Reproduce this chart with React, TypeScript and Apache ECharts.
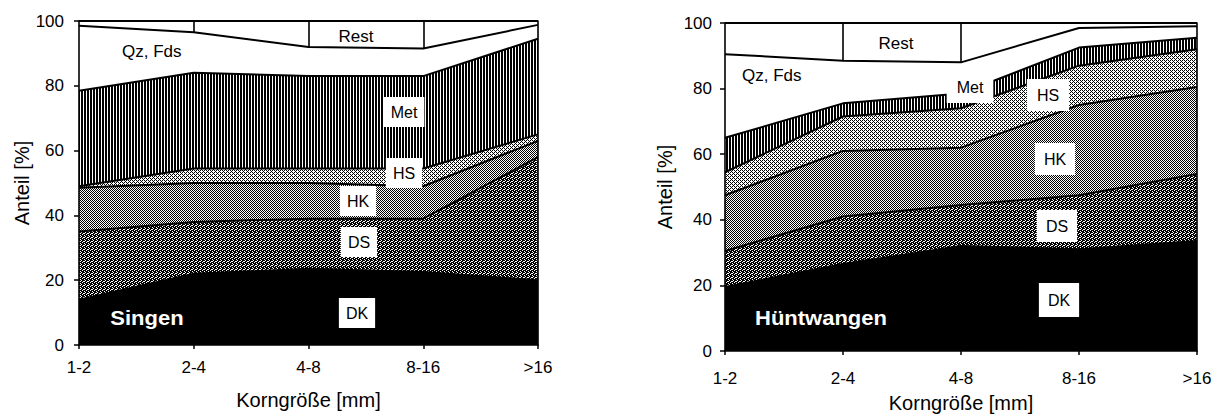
import React, { useEffect, useRef } from 'react';
import * as echarts from 'echarts';

const categories = ['1-2', '2-4', '4-8', '8-16', '>16'];
const yTickMin = 0;
const yTickMax = 100;
const yTickStep = 20;
const layerNames = ['DK', 'DS', 'HK', 'HS', 'Met', 'Qz, Fds', 'Rest'];

// Singen (left chart), share of each component in %
const singenDK = [14, 22, 23.5, 22.5, 20];
const singenDS = [21, 16, 15.5, 16.5, 38];
const singenHK = [13.5, 12, 11, 10, 5];
const singenHS = [0.5, 4.5, 4.5, 5.5, 2];
const singenMet = [29.5, 29.5, 28.5, 28.5, 29.5];
const singenQz = [20, 12.5, 9, 8.5, 4.3];
const singenRest = [1.5, 3.5, 8, 8.5, 1.2];
const singenRestDividers = ['2-4', '4-8', '8-16'];

// Hüntwangen (right chart)
const huentDK = [19.5, 26.5, 32, 31, 33.5];
const huentDS = [11, 14.5, 12.5, 16.5, 20.5];
const huentHK = [17, 20, 17.5, 27.5, 26.5];
const huentHS = [7, 10.5, 12, 12, 11.5];
const huentMet = [10.5, 4, 4.5, 5.5, 3.5];
const huentQz = [25.5, 13, 9.5, 6, 3.5];
const huentRest = [9.5, 11.5, 12, 1.5, 1];
const huentRestDividers = ['2-4', '4-8'];

const FONT = '"Liberation Sans", Arial, sans-serif';

function makePattern(rows: string[]) {
  const h = rows.length;
  const w = rows[0].length;
  const c = document.createElement('canvas');
  c.width = w;
  c.height = h;
  const ctx = c.getContext('2d')!;
  ctx.fillStyle = '#fff';
  ctx.fillRect(0, 0, w, h);
  ctx.fillStyle = '#000';
  rows.forEach((r, y) => {
    for (let x = 0; x < w; x++) if (r[x] === 'X') ctx.fillRect(x, y, 1, 1);
  });
  return { image: c.toDataURL(), repeat: 'repeat', imageWidth: w, imageHeight: h };
}

export default function App() {
  const ref = useRef<HTMLDivElement>(null);
  useEffect(() => {
    const chart = echarts.init(ref.current!, null, { renderer: 'svg' });

    const fills: any[] = [
      '#000',
      makePattern(['X.XX', '.XX.', 'XX.X', '.XXX']),
      makePattern(['X.', '.X']),
      makePattern(['X.X.', '.X..', 'X.X.', '...X']),
      makePattern(['XX.', 'XX.']),
      '#fff',
      '#fff',
    ];

    const charts = [
      { stack: 'L', values: [singenDK, singenDS, singenHK, singenHS, singenMet, singenQz, singenRest], dividers: singenRestDividers },
      { stack: 'R', values: [huentDK, huentDS, huentHK, huentHS, huentMet, huentQz, huentRest], dividers: huentRestDividers },
    ];

    const series: any[] = [];
    charts.forEach((c, gi) => {
      c.values.forEach((vals, li) => {
        series.push({
          type: 'line',
          name: layerNames[li] + '-' + c.stack,
          stack: c.stack,
          xAxisIndex: gi,
          yAxisIndex: gi * 2,
          data: vals,
          symbol: 'none',
          silent: true,
          lineStyle: { color: '#000', width: 2 },
          areaStyle: { color: fills[li], opacity: 1 },
          z: 2,
        });
      });
      series.push({
        type: 'line',
        xAxisIndex: gi,
        yAxisIndex: gi * 2,
        data: [],
        silent: true,
        z: 4,
        markLine: {
          symbol: ['none', 'none'],
          silent: true,
          label: { show: false },
          lineStyle: { color: '#000', width: 1.6, type: 'solid' },
          data: c.dividers.map((cat) => {
            const i = categories.indexOf(cat);
            let v = 0;
            for (let k = 0; k < 6; k++) v += c.values[k][i];
            return [{ coord: [i, v] }, { coord: [i, 100] }];
          }),
        },
      });
    });

    const xAxisBase = (gi: number, margin: number, nameGap: number) => ({
      type: 'category',
      gridIndex: gi,
      data: categories,
      boundaryGap: false,
      z: 5,
      axisLine: { lineStyle: { color: '#000', width: 1.6 } },
      axisTick: { alignWithLabel: true, length: 4, lineStyle: { color: '#000', width: 1.5 } },
      axisLabel: { color: '#000', fontSize: 17, fontFamily: FONT, margin },
      name: 'Korngröße [mm]',
      nameLocation: 'middle',
      nameGap,
      nameTextStyle: { color: '#000', fontSize: 20, fontFamily: FONT },
    });
    const yAxisBase = (gi: number, margin: number, nameGap: number) => ({
      type: 'value',
      gridIndex: gi,
      min: yTickMin,
      max: yTickMax,
      interval: yTickStep,
      z: 5,
      axisLine: { show: true, lineStyle: { color: '#000', width: 1.6 } },
      axisTick: { show: true, length: 5, lineStyle: { color: '#000', width: 1.5 } },
      splitLine: { show: false },
      axisLabel: { color: '#000', fontSize: 17, fontFamily: FONT, margin },
      name: 'Anteil [%]',
      nameLocation: 'middle',
      nameRotate: 90,
      nameGap,
      nameTextStyle: { color: '#000', fontSize: 20, fontFamily: FONT },
    });
    const yRight = (gi: number) => ({
      type: 'value',
      gridIndex: gi,
      position: 'right',
      min: yTickMin,
      max: yTickMax,
      z: 5,
      axisLine: { show: true, lineStyle: { color: '#000', width: 1.6 } },
      axisTick: { show: false },
      axisLabel: { show: false },
      splitLine: { show: false },
    });

    const boxLabel = (text: string, x: number, y: number, pad: number[] = [7, 7]) => ({
      type: 'text',
      z: 100,
      x,
      y,
      style: {
        text,
        fill: '#000',
        font: '16px ' + FONT,
        align: 'center',
        verticalAlign: 'middle',
        backgroundColor: '#fff',
        padding: pad,
      },
    });
    const plainLabel = (text: string, x: number, y: number, align = 'center') => ({
      type: 'text',
      z: 100,
      x,
      y,
      style: { text, fill: '#000', font: '17px ' + FONT, align, verticalAlign: 'middle' },
    });
    const siteLabel = (text: string, x: number, y: number) => ({
      type: 'text',
      z: 100,
      x,
      y,
      scaleX: 1.1,
      style: { text, fill: '#fff', font: 'bold 20px ' + FONT, align: 'center', verticalAlign: 'middle' },
    });

    const option: any = {
      animation: false,
      grid: [
        { left: 79, top: 21, width: 459, height: 324, show: false },
        { left: 725, top: 23, width: 472, height: 329, show: false },
      ],
      xAxis: [xAxisBase(0, 14, 45), xAxisBase(1, 19, 42)],
      yAxis: [yAxisBase(0, 15, 46), yRight(0), yAxisBase(1, 13, 50), yRight(1)],
      series,
      graphic: [
        plainLabel('Qz, Fds', 122, 51, 'left'),
        plainLabel('Rest', 356, 36),
        boxLabel(layerNames[4], 404, 112),
        boxLabel(layerNames[3], 404, 173),
        boxLabel(layerNames[2], 358, 201),
        boxLabel(layerNames[1], 359, 242),
        boxLabel(layerNames[0], 357, 313),
        siteLabel('Singen', 147, 318),
        plainLabel('Qz, Fds', 742, 75, 'left'),
        plainLabel('Rest', 896, 43),
        boxLabel(layerNames[4], 970, 87, [8, 10]),
        boxLabel(layerNames[3], 1048, 95, [8, 10]),
        boxLabel(layerNames[2], 1055, 159, [8, 9]),
        boxLabel(layerNames[1], 1057, 226, [8, 9]),
        boxLabel(layerNames[0], 1059, 300, [9, 9]),
        siteLabel('Hüntwangen', 821, 318),
      ],
    };
    chart.setOption(option);
    return () => chart.dispose();
  }, []);
  return <div ref={ref} style={{ position: 'absolute', left: 0, top: 0, width: 1227, height: 418 }} />;
}
